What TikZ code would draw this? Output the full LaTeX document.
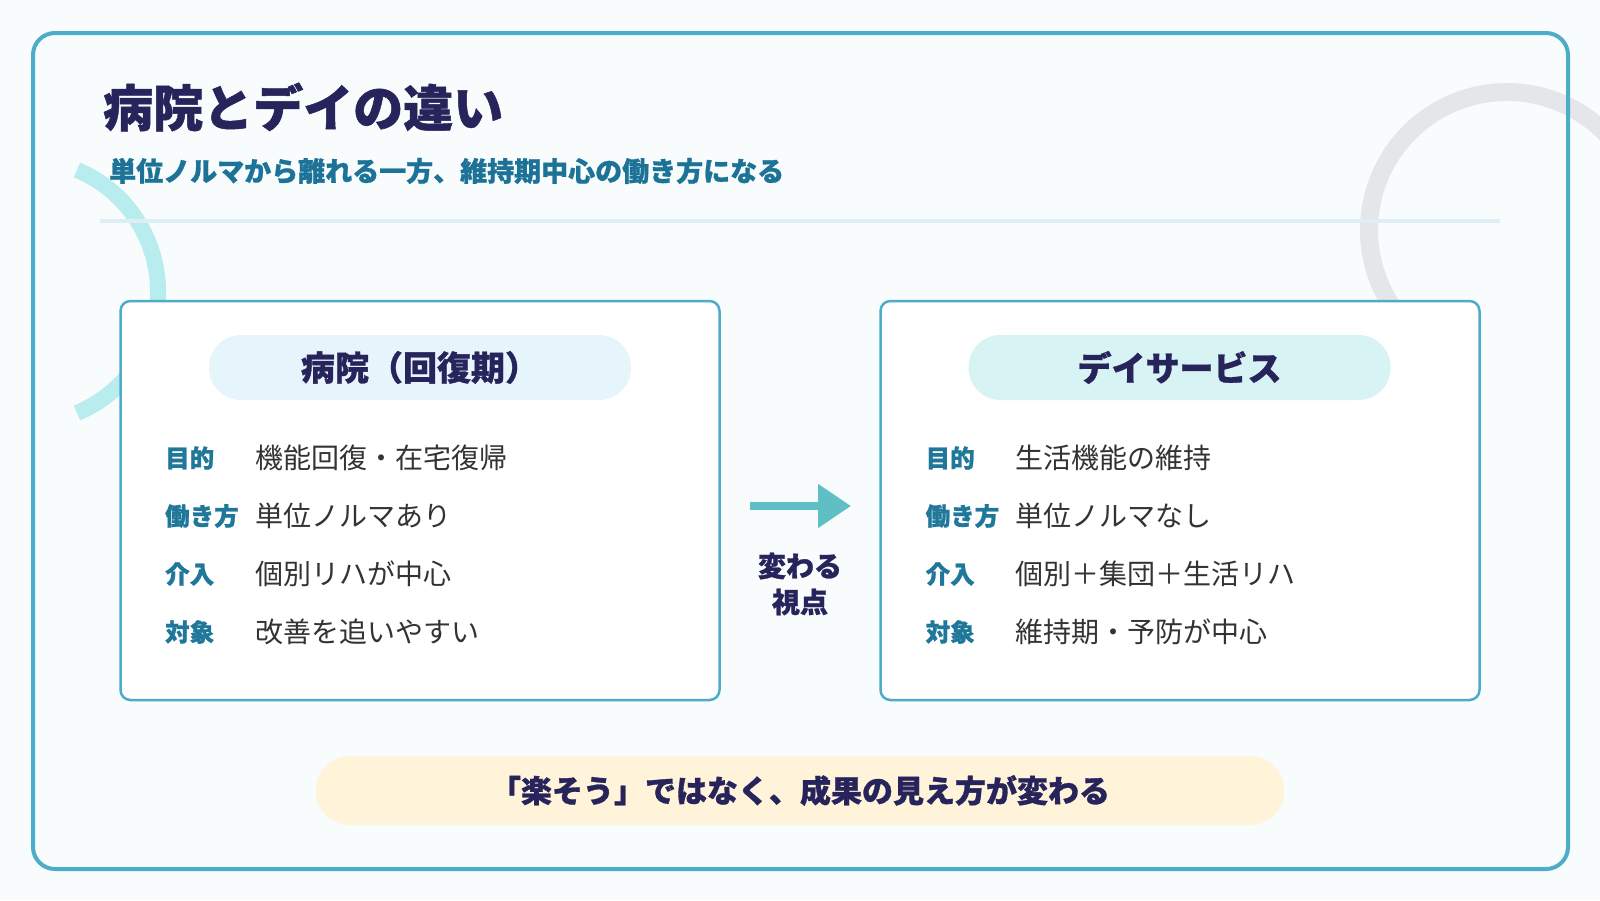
\documentclass[tikz,border=0pt]{standalone}
\usepackage{fontspec}
\setmainfont{Noto Sans CJK JP}[BoldFeatures={FakeBold=1}]
\usetikzlibrary{arrows.meta}
\definecolor{bgc}{HTML}{F8FCFC}
\definecolor{framec}{HTML}{4DACC7}
\definecolor{navy}{HTML}{27245C}
\definecolor{subc}{HTML}{1C7397}
\definecolor{labc}{HTML}{1F7799}
\definecolor{valc}{HTML}{333333}
\definecolor{divc}{HTML}{DDEFF5}
\definecolor{arcc}{HTML}{B9ECEF}
\definecolor{ringc}{HTML}{E5E6EA}
\definecolor{pillL}{HTML}{E6F5FC}
\definecolor{pillR}{HTML}{D8F3F3}
\definecolor{pillB}{HTML}{FFF3DA}
\definecolor{arrowc}{HTML}{5FBFC5}
\tikzset{
  card/.style={draw=framec, line width=2.5pt, fill=white, rounded corners=10pt, minimum width=599pt, minimum height=399pt, inner sep=0pt},
  pill/.style={rounded corners=32pt, minimum width=422pt, minimum height=65pt, inner sep=0pt, text=navy, font=\bfseries\fontsize{34}{40}\selectfont},
  lab/.style={anchor=west, inner sep=0pt, text=labc, font=\bfseries\fontsize{24.5}{30}\selectfont},
  val/.style={anchor=west, inner sep=0pt, text=valc, font=\fontsize{28}{34}\selectfont},
}
\begin{document}
\begin{tikzpicture}[x=1pt,y=-1pt]
\useasboundingbox (0,0) rectangle (1600,900);
\fill[bgc] (0,0) rectangle (1600,900);
\begin{scope}
\clip (0,0) rectangle (1600,900);
\draw[ringc, line width=18pt] (1507,230) ++(-220:138) arc[start angle=-220, end angle=-25, radius=138];
\end{scope}
\draw[arcc, line width=16pt] (26.4,291.5) ++(-67.4:131.6) arc[start angle=-67.4, end angle=67.4, radius=131.6];
\coordinate (d1) at (100,221);
\coordinate (d2) at (1500,221);
\draw[divc, line width=3.5pt] (d1) -- (d2);
\draw[framec, line width=4pt, rounded corners=22pt] (33,33) rectangle (1568,869);
\node[anchor=west, inner sep=0pt, text=navy, font=\bfseries\fontsize{50}{60}\selectfont] (title) at (103,107) {病院とデイの違い};
\node[anchor=west, inner sep=0pt, text=subc, font=\bfseries\fontsize{27}{32}\selectfont] (subtitle) at (109,171) {単位ノルマから離れる一方、維持期中心の働き方になる};
% left card
\node[card] (lbox) at (420,500.5) {};
\node[pill, fill=pillL] (lhead) at (420,367.5) {病院（回復期）};
\node[lab] (l1) at (165,458) {目的};
\node[val] (v1) at (255,458) {機能回復・在宅復帰};
\node[lab] (l2) at (165,516) {働き方};
\node[val] (v2) at (255,516) {単位ノルマあり};
\node[lab] (l3) at (165,574) {介入};
\node[val] (v3) at (255,574) {個別リハが中心};
\node[lab] (l4) at (165,632) {対象};
\node[val] (v4) at (255,632) {改善を追いやすい};
% right card
\node[card] (rbox) at (1180,500.5) {};
\node[pill, fill=pillR] (rhead) at (1179.5,367.5) {デイサービス};
\node[lab] (r1) at (925.5,458) {目的};
\node[val] (w1) at (1015,458) {生活機能の維持};
\node[lab] (r2) at (925.5,516) {働き方};
\node[val] (w2) at (1015,516) {単位ノルマなし};
\node[lab] (r3) at (925.5,574) {介入};
\node[val] (w3) at (1015,574) {個別＋集団＋生活リハ};
\node[lab] (r4) at (925.5,632) {対象};
\node[val] (w4) at (1015,632) {維持期・予防が中心};
% arrow
\coordinate (a1) at (750,506);
\coordinate (a2) at (851,506);
\draw[arrowc, line width=8pt, -{Triangle[length=33pt,width=42pt]}] (a1) -- (a2);
\node[align=center, inner sep=0pt, text=navy, font=\bfseries\fontsize{28}{36}\selectfont] (shift) at (800,584) {変わる\\視点};
% bottom pill
\node[rounded corners=34pt, fill=pillB, minimum width=968pt, minimum height=69pt, inner sep=0pt, text=navy, font=\bfseries\fontsize{31}{36}\selectfont] (bottom) at (800,790.5) {「楽そう」ではなく、成果の見え方が変わる};
\end{tikzpicture}
\end{document}
